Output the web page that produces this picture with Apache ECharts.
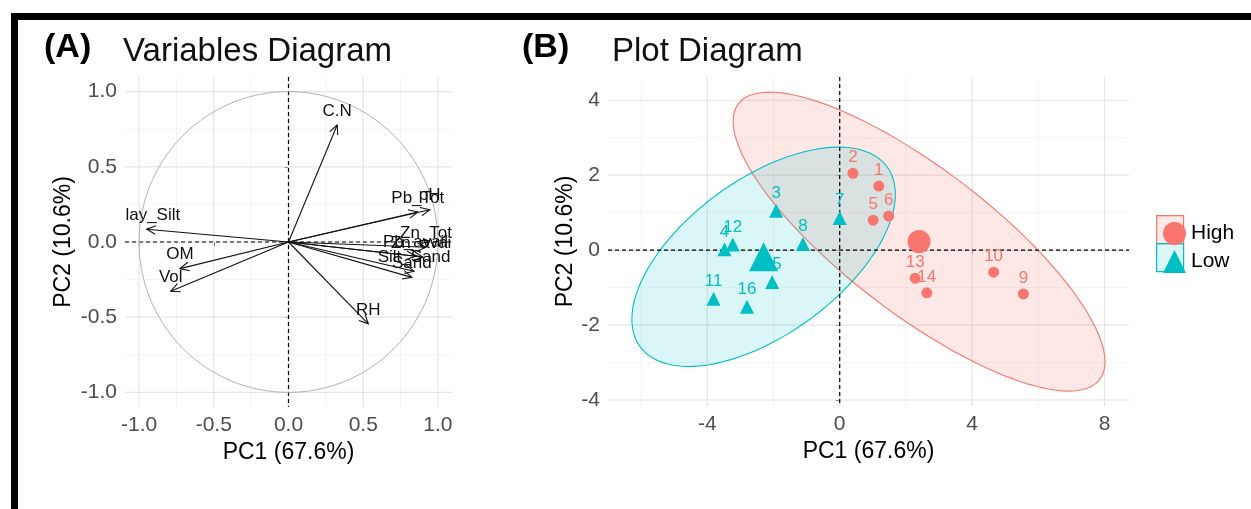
<!DOCTYPE html>
<html><head><meta charset="utf-8">
<script src="https://cdn.jsdelivr.net/npm/echarts@6/dist/echarts.min.js"></script>
<style>html,body{margin:0;padding:0;background:#fff}#c{width:1251px;height:509px}</style>
</head><body><div id="c"></div>
<script>
// ---------- Panel A: variables (loadings on PC1 / PC2) ----------
const varNames = ['C.N','Pb_Tot','pH','Zn_Tot','Pb_avail','Zn_avail','Silt_Sand','Sand','Clay_Silt','OM','Vol','RH'];
const varPC1   = [0.326, 0.865, 0.945, 0.92, 0.85, 0.90, 0.84, 0.825, -0.949, -0.726, -0.788, 0.534];
const varPC2   = [0.778, 0.20, 0.215, -0.035, -0.095, -0.10, -0.195, -0.235, 0.085, -0.177, -0.327, -0.544];
const aMajor = [-1, -0.5, 0, 0.5, 1];
const aMinor = [-0.75, -0.25, 0.25, 0.75];

// ---------- Panel B: individuals ----------
const highIds = ['1','2','5','6','9','10','13','14'];
const highPC1 = [1.18, 0.40, 1.01, 1.48, 5.55, 4.65, 2.28, 2.63];
const highPC2 = [1.71, 2.05, 0.80, 0.91, -1.17, -0.59, -0.75, -1.14];
const lowIds  = ['3','4','7','8','11','12','15','16'];
const lowPC1  = [-1.92, -3.48, 0.00, -1.11, -3.81, -3.23, -2.04, -2.80];
const lowPC2  = [1.05, 0.02, 0.86, 0.16, -1.30, 0.15, -0.85, -1.51];
const bMajorX = [-4, 0, 4, 8];
const bMinorX = [-6, -2, 2, 6];
const bMajorY = [-4, -2, 0, 2, 4];
const bMinorY = [-3, -1, 1, 3];

const RED = '#F8766D', TEAL = '#00BFC4';
const FONT = '"Liberation Sans", Arial, sans-serif';

function mean(a){ return a.reduce((s,v)=>s+v,0)/a.length; }
// normal-theory 95% confidence ellipse (as ggplot2 stat_ellipse type="norm")
function confEllipse(xs, ys, level){
  const n = xs.length, mx = mean(xs), my = mean(ys);
  let sxx=0, syy=0, sxy=0;
  for (let i=0;i<n;i++){ const dx=xs[i]-mx, dy=ys[i]-my; sxx+=dx*dx; syy+=dy*dy; sxy+=dx*dy; }
  sxx/=(n-1); syy/=(n-1); sxy/=(n-1);
  const d2 = n-1;
  const fq = (d2/2)*(Math.pow(1-level, -2/d2)-1);   // qf(level, 2, n-1)
  const r = Math.sqrt(2*fq);
  const r11 = Math.sqrt(sxx), r12 = sxy/r11, r22 = Math.sqrt(syy - r12*r12);
  const pts = [];
  for (let k=0;k<=100;k++){
    const t = 2*Math.PI*k/100, c=Math.cos(t), s=Math.sin(t);
    pts.push([mx + r*c*r11, my + r*(c*r12 + s*r22)]);
  }
  return pts;
}
const ellipses = [
  {pts: confEllipse(highPC1, highPC2, 0.95), color: RED,  fill: 'rgba(248,118,109,0.17)'},
  {pts: confEllipse(lowPC1,  lowPC2,  0.95), color: TEAL, fill: 'rgba(0,191,196,0.14)'}
];

function gridData(majX, minX, majY, minY){
  const d = [];
  minX.forEach(v=>d.push([v,1,0])); minY.forEach(v=>d.push([v,0,0]));
  majX.forEach(v=>d.push([v,1,1])); majY.forEach(v=>d.push([v,0,1]));
  return d;
}
function renderGrid(params, api){
  const v = api.value(0), vert = api.value(1), kind = api.value(2);
  const cs = params.coordSys;
  let shape;
  if (vert) { const x = api.coord([v, 0])[0]; shape = {x1:x, y1:cs.y, x2:x, y2:cs.y+cs.height}; }
  else { const y = api.coord([0, v])[1]; shape = {x1:cs.x, y1:y, x2:cs.x+cs.width, y2:y}; }
  let style;
  if (kind === 2) style = {stroke:'#000', lineWidth:1.2, lineDash:[4,3]};
  else if (kind === 1) style = {stroke:'#e5e5e5', lineWidth:1.2};
  else style = {stroke:'#f1f1f1', lineWidth:0.8};
  return {type:'line', shape, style};
}
function renderArrow(params, api){
  const o = api.coord([0,0]);
  const t = api.coord([api.value(0), api.value(1)]);
  const ang = Math.atan2(t[1]-o[1], t[0]-o[0]);
  const L = 10, A = Math.PI/7;
  const p1 = [t[0]-L*Math.cos(ang-A), t[1]-L*Math.sin(ang-A)];
  const p2 = [t[0]-L*Math.cos(ang+A), t[1]-L*Math.sin(ang+A)];
  return {type:'group', children:[
    {type:'line', shape:{x1:o[0],y1:o[1],x2:t[0],y2:t[1]}, style:{stroke:'#111', lineWidth:1.1}},
    {type:'polyline', shape:{points:[p1,t,p2]}, style:{stroke:'#111', fill:null, lineWidth:1.1}},
    {type:'text', x:t[0], y:t[1]-14, style:{text:varNames[params.dataIndex], font:'17px '+FONT, fill:'#111', align:'center', verticalAlign:'middle'}}
  ]};
}
function renderCircle(params, api){
  const pts = [];
  for (let k=0;k<=120;k++){ const t=2*Math.PI*k/120; pts.push(api.coord([Math.cos(t), Math.sin(t)])); }
  return {type:'polyline', shape:{points:pts}, style:{stroke:'#b3b3b3', lineWidth:1, fill:null}};
}
function renderEllipse(params, api){
  const e = ellipses[params.dataIndex];
  const pts = e.pts.map(p=>api.coord(p));
  return {type:'polygon', shape:{points:pts}, style:{fill:e.fill, stroke:e.color, lineWidth:1.1}};
}

const axisCommon = {
  type:'value', axisLine:{show:false}, splitLine:{show:false},
  axisTick:{show:true, length:4, lineStyle:{color:'#333', width:1}},
  axisLabel:{color:'#4d4d4d', fontSize:21, fontFamily:FONT},
  nameLocation:'middle', nameTextStyle:{color:'#000', fontSize:23, fontFamily:FONT}
};

const chart = echarts.init(document.getElementById('c'), null, {renderer:'canvas'});
chart.setOption({
  animation:false,
  backgroundColor:'#fff',
  textStyle:{fontFamily:FONT},
  grid:[
    {left:125, top:77, width:327, height:330},
    {left:608, top:77, width:521, height:329}
  ],
  xAxis:[
    Object.assign({}, axisCommon, {gridIndex:0, min:-1.094, max:1.094, name:'PC1 (67.6%)', nameGap:33,
      axisTick:Object.assign({}, axisCommon.axisTick, {customValues:aMajor}),
      axisLabel:Object.assign({}, axisCommon.axisLabel, {customValues:aMajor, margin:8, formatter:v=>v.toFixed(1)})}),
    Object.assign({}, axisCommon, {gridIndex:1, min:-7.0, max:8.74, name:'PC1 (67.6%)', nameGap:33,
      axisTick:Object.assign({}, axisCommon.axisTick, {customValues:bMajorX}),
      axisLabel:Object.assign({}, axisCommon.axisLabel, {customValues:bMajorX, margin:8, formatter:v=>String(v)})})
  ],
  yAxis:[
    Object.assign({}, axisCommon, {gridIndex:0, min:-1.097, max:1.097, name:'PC2 (10.6%)', nameGap:50,
      axisTick:Object.assign({}, axisCommon.axisTick, {customValues:aMajor}),
      axisLabel:Object.assign({}, axisCommon.axisLabel, {customValues:aMajor, margin:8, formatter:v=>v.toFixed(1)})}),
    Object.assign({}, axisCommon, {gridIndex:1, min:-4.16, max:4.62, name:'PC2 (10.6%)', nameGap:30,
      axisTick:Object.assign({}, axisCommon.axisTick, {customValues:bMajorY}),
      axisLabel:Object.assign({}, axisCommon.axisLabel, {customValues:bMajorY, margin:8, formatter:v=>String(v)})})
  ],
  legend:{
    orient:'vertical', left:1158, top:217, itemWidth:23, itemHeight:23, itemGap:5,
    textStyle:{fontSize:21, color:'#000', fontFamily:FONT},
    data:[{name:'High', icon:'circle'}, {name:'Low', icon:'triangle'}]
  },
  graphic:[
    {type:'rect', left:11, top:13, shape:{width:1300, height:600}, style:{fill:null, stroke:'#000', lineWidth:7}, z:100, silent:true},
    {type:'text', left:44, top:31, style:{text:'(A)', font:'bold 34px '+FONT, fill:'#000'}},
    {type:'text', left:123, top:35, style:{text:'Variables Diagram', font:'33px '+FONT, fill:'#111'}},
    {type:'text', left:522, top:31, style:{text:'(B)', font:'bold 34px '+FONT, fill:'#000'}},
    {type:'text', left:612, top:35, style:{text:'Plot Diagram', font:'33px '+FONT, fill:'#111'}},
    {type:'rect', left:1156, top:215, shape:{width:27, height:28}, style:{fill:'rgba(248,118,109,0.17)', stroke:RED, lineWidth:1.2}, z:-1},
    {type:'rect', left:1156, top:243, shape:{width:27, height:28}, style:{fill:'rgba(0,191,196,0.14)', stroke:TEAL, lineWidth:1.2}, z:-1}
  ],
  series:[
    // Panel A
    {type:'custom', name:'gridA', xAxisIndex:0, yAxisIndex:0, silent:true, z:1, renderItem:renderGrid,
      data: gridData(aMajor, aMinor, aMajor, aMinor).concat([[0,1,2],[0,0,2]])},
    {type:'custom', name:'circle', xAxisIndex:0, yAxisIndex:0, silent:true, z:2, renderItem:renderCircle, data:[[0,0]]},
    {type:'custom', name:'vars', xAxisIndex:0, yAxisIndex:0, silent:true, z:3, clip:true, renderItem:renderArrow,
      data: varPC1.map((x,i)=>[x, varPC2[i]])},
    // Panel B
    {type:'custom', name:'gridB', xAxisIndex:1, yAxisIndex:1, silent:true, z:1, renderItem:renderGrid,
      data: gridData(bMajorX, bMinorX, bMajorY, bMinorY)},
    {type:'custom', name:'ellipses', xAxisIndex:1, yAxisIndex:1, silent:true, z:2, clip:true, renderItem:renderEllipse,
      data:[[0,0],[0,0]]},
    {type:'custom', name:'zeroB', xAxisIndex:1, yAxisIndex:1, silent:true, z:3, renderItem:renderGrid,
      data:[[0,1,2],[0,0,2]]},
    {type:'scatter', name:'High', xAxisIndex:1, yAxisIndex:1, z:5, symbol:'circle', symbolSize:11,
      itemStyle:{color:RED, opacity:1},
      label:{show:true, position:'top', distance:2, formatter:'{b}', color:RED, fontSize:17, fontFamily:FONT},
      data: highPC1.map((x,i)=>({name:highIds[i], value:[x, highPC2[i]]}))},
    {type:'scatter', name:'Low', xAxisIndex:1, yAxisIndex:1, z:5, symbol:'triangle', symbolSize:14,
      itemStyle:{color:TEAL, opacity:1},
      label:{show:true, position:'top', distance:2, formatter:'{b}', color:TEAL, fontSize:17, fontFamily:FONT},
      data: lowPC1.map((x,i)=>({name:lowIds[i], value:[x, lowPC2[i]]}))},
    {type:'scatter', name:'High', xAxisIndex:1, yAxisIndex:1, z:4, symbol:'circle', symbolSize:23,
      itemStyle:{color:RED, opacity:1}, data:[[mean(highPC1), mean(highPC2)]]},
    {type:'scatter', name:'Low', xAxisIndex:1, yAxisIndex:1, z:4, symbol:'triangle', symbolSize:29,
      itemStyle:{color:TEAL, opacity:1}, data:[[mean(lowPC1), mean(lowPC2)]]}
  ]
});
</script>
</body></html>
